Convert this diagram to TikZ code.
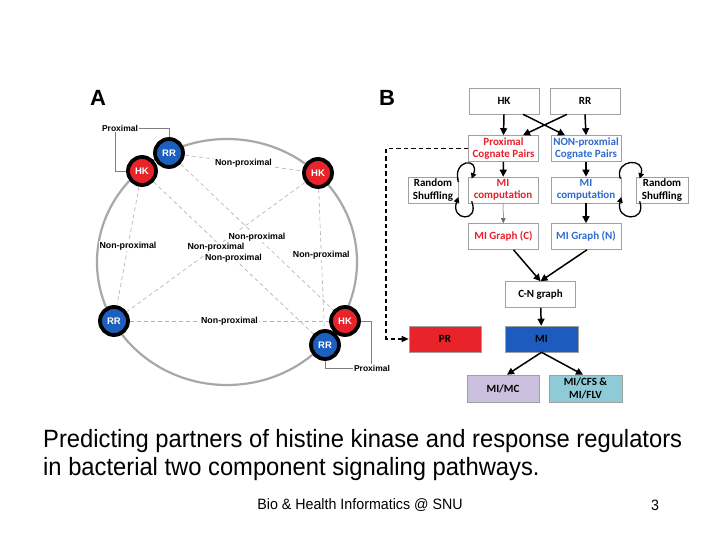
\documentclass[tikz,border=0pt]{standalone}
\usepackage{fontspec}
\setmainfont{Liberation Sans}
\newfontfamily\calfont{Carlito}
\newfontfamily\narrowfont[FakeStretch=0.95]{Liberation Sans}
\usetikzlibrary{arrows.meta,backgrounds,calc}
\definecolor{hkred}{HTML}{E8232A}
\definecolor{rrblue}{HTML}{1C5FBF}
\definecolor{txtred}{HTML}{E8202A}
\definecolor{txtblue}{HTML}{2E6BD0}
\definecolor{miblue}{HTML}{1D5BBE}
\definecolor{lav}{HTML}{CBC0DD}
\definecolor{cyanish}{HTML}{8FCBD6}
\definecolor{boxgray}{HTML}{A0A0A0}
\definecolor{ringgray}{HTML}{A8A8A8}
\tikzset{
  circnode/.style={circle, draw=black, line width=3.8pt, minimum size=28pt, inner sep=0pt,
    text=white, font=\fontsize{9.5}{10}\selectfont\bfseries},
  hknode/.style={circnode, fill=hkred},
  rrnode/.style={circnode, fill=rrblue},
  nplink/.style={draw=gray!60, dashed, dash pattern=on 4pt off 3pt, line width=0.6pt},
  nplbl/.style={fill=white, inner sep=1pt, font=\fontsize{8.8}{9}\selectfont\bfseries},
  proxlbl/.style={inner sep=1pt, font=\fontsize{8.5}{9}\selectfont\bfseries},
  fbox/.style={draw=boxgray, line width=0.6pt, fill=white, minimum width=70pt, minimum height=26pt,
    inner sep=1pt, align=center, font=\calfont\fontsize{11}{12.5}\selectfont\bfseries},
  arr/.style={-{Triangle[length=7pt,width=7pt]}, line width=1.5pt},
  thinarr/.style={-{Triangle[length=5pt,width=4.5pt]}, line width=0.5pt, draw=gray!80!black},
  looparr/.style={-{Triangle[length=5.5pt,width=5.5pt]}, line width=1.3pt},
  panel/.style={font=\fontsize{22}{24}\selectfont\bfseries}
}
\begin{document}
\begin{tikzpicture}[x=1pt,y=-1pt]
\useasboundingbox (0,0) rectangle (720,540);

% panel labels
\node[panel] (labA) at (98,98) {A};
\node[panel] (labB) at (387,98) {B};

% circle nodes
\node[hknode] (hk1) at (142,171) {HK};
\node[rrnode] (rr1) at (169,153) {RR};
\node[hknode] (hk2) at (318,173) {HK};
\node[rrnode] (rr2) at (114,321) {RR};
\node[hknode] (hk3) at (345,321) {HK};
\node[rrnode] (rr3) at (325,345) {RR};

\node[proxlbl] (p1) at (120,128) {Proximal};
\node[proxlbl] (p2) at (372,368) {Proximal};

\begin{scope}[on background layer]
  \fill[white] (0,0) rectangle (720,540);
  \draw[ringgray, line width=2.2pt] (227,262) ellipse [x radius=130, y radius=123];
  \draw[nplink] (rr1) -- (hk2);
  \draw[nplink] (hk1) -- (rr2);
  \draw[nplink] (hk2) -- (rr3);
  \draw[nplink] (rr2) -- (hk3);
  \draw[nplink] (rr1) -- (hk3);
  \draw[nplink] (hk1) -- (rr3);
  \draw[nplink] (hk2) -- (rr2);
  \path (rr1) -- (hk2) node[midway, nplbl] (l1) {Non-proximal};
  \path (hk1) -- (rr2) node[midway, nplbl] (l2) {Non-proximal};
  \path (hk2) -- (rr3) node[pos=0.47, nplbl] (l3) {Non-proximal};
  \path (rr2) -- (hk3) node[midway, nplbl] (l4) {Non-proximal};
  \path (rr1) -- (hk3) node[midway, nplbl] (l5) {Non-proximal};
  \path (hk2) -- (rr2) node[midway, nplbl] (l6) {Non-proximal};
  \path (hk1) -- (rr3) node[midway, nplbl] (l7) {Non-proximal};
  \draw[gray, line width=0.6pt] (p1.east) -| (rr1.north);
  \draw[gray, line width=0.6pt] ([xshift=-5pt]p1.south) |- (hk1.west);
  \draw[gray, line width=0.6pt] (hk3.east) -| ([xshift=-1pt]p2.north);
  \draw[gray, line width=0.6pt] (rr3.south) |- (p2.west);
\end{scope}

% flowchart
\node[fbox] (hk) at (504,101) {HK};
\node[fbox] (rr) at (585,101) {RR};
\node[fbox, text=txtred] (prox) at (503.5,148.5) {Proximal\\Cognate Pairs};
\node[fbox, text=txtblue] (nonp) at (586,148.5) {NON-proxmial\\Cognate Pairs};
\node[fbox, minimum width=50pt] (rsl) at (433,190) {Random\\Shuffling};
\node[fbox, text=txtred] (micl) at (503,190) {MI\\computation};
\node[fbox, text=txtblue] (micr) at (586,190) {MI\\computation};
\node[fbox, minimum width=52pt] (rsr) at (662,190) {Random\\Shuffling};
\node[fbox, text=txtred] (mgc) at (503.5,236.5) {MI Graph (C)};
\node[fbox, text=txtblue] (mgn) at (586,236.5) {MI Graph (N)};
\node[fbox] (cn) at (540.5,294.5) {C-N graph};
\node[fbox, fill=hkred, minimum width=72pt] (pr) at (445,339) {PR};
\node[fbox, fill=miblue, minimum width=73pt] (mi) at (541.5,339) {MI};
\node[fbox, fill=lav, minimum width=72pt, minimum height=27pt] (mimc) at (503,388.5) {MI/MC};
\node[fbox, fill=cyanish, minimum width=73pt, minimum height=27pt] (micfs) at (585.5,388.5) {MI/CFS \&\\MI/FLV};

\draw[arr] (hk.south) -- (prox.north);
\draw[arr] (rr.south) -- (nonp.north);
\draw[arr] ([xshift=19pt]hk.south) -- ([xshift=-21pt]nonp.north);
\draw[arr] ([xshift=-18pt]rr.south) -- ([xshift=19.5pt]prox.north);
\draw[arr] (prox) -- (micl);
\draw[arr] (nonp) -- (micr);
\draw[thinarr] (micl) -- (mgc);
\draw[arr] (micr) -- (mgn);
\draw[arr] ([xshift=10pt]mgc.south) -- (cn.north);
\draw[arr] ([xshift=1pt]mgn.south) -- (cn.north);
\draw[arr] (cn) -- (mi);
\draw[arr] (mi.south) -- ([xshift=4pt]mimc.north);
\draw[arr] (mi.south) -- ([xshift=-2.5pt]micfs.north);

\coordinate (dk) at (386,148.5);
\draw[line width=1.3pt, dash pattern=on 4.5pt off 3pt, -{Triangle[length=7pt,width=6pt]}] (prox.west) -- (dk) |- (pr.west);

% shuffling loops
\draw[looparr] ([yshift=8pt]rsl.east) .. controls (452,159) and (480,157) .. ([xshift=4pt,yshift=-2pt]micl.north west);
\draw[looparr] ([xshift=4pt,yshift=2pt]micl.south west) .. controls (480,223) and (450,221) .. ([yshift=-7pt]rsl.east);
\draw[looparr] ([xshift=-1pt,yshift=-2pt]micr.north east) .. controls (614,159) and (646,157) .. ([xshift=4pt,yshift=-2pt]rsr.north west);
\draw[looparr] ([xshift=4pt,yshift=2pt]rsr.south west) .. controls (647,223) and (615,221) .. ([yshift=-7pt]micr.east);

% bottom text
\node[anchor=west, align=left, font=\narrowfont\fontsize{25}{28}\selectfont, inner sep=0pt] (caption) at (43,455)
  {Predicting partners of histine kinase and response regulators\\in bacterial two component signaling pathways.};
\node[font=\narrowfont\fontsize{15}{17}\selectfont, inner sep=0pt] (footer) at (360,505) {Bio \& Health Informatics @ SNU};
\node[font=\narrowfont\fontsize{15}{17}\selectfont, inner sep=0pt] (pagenum) at (655,505) {3};
\end{tikzpicture}
\end{document}
